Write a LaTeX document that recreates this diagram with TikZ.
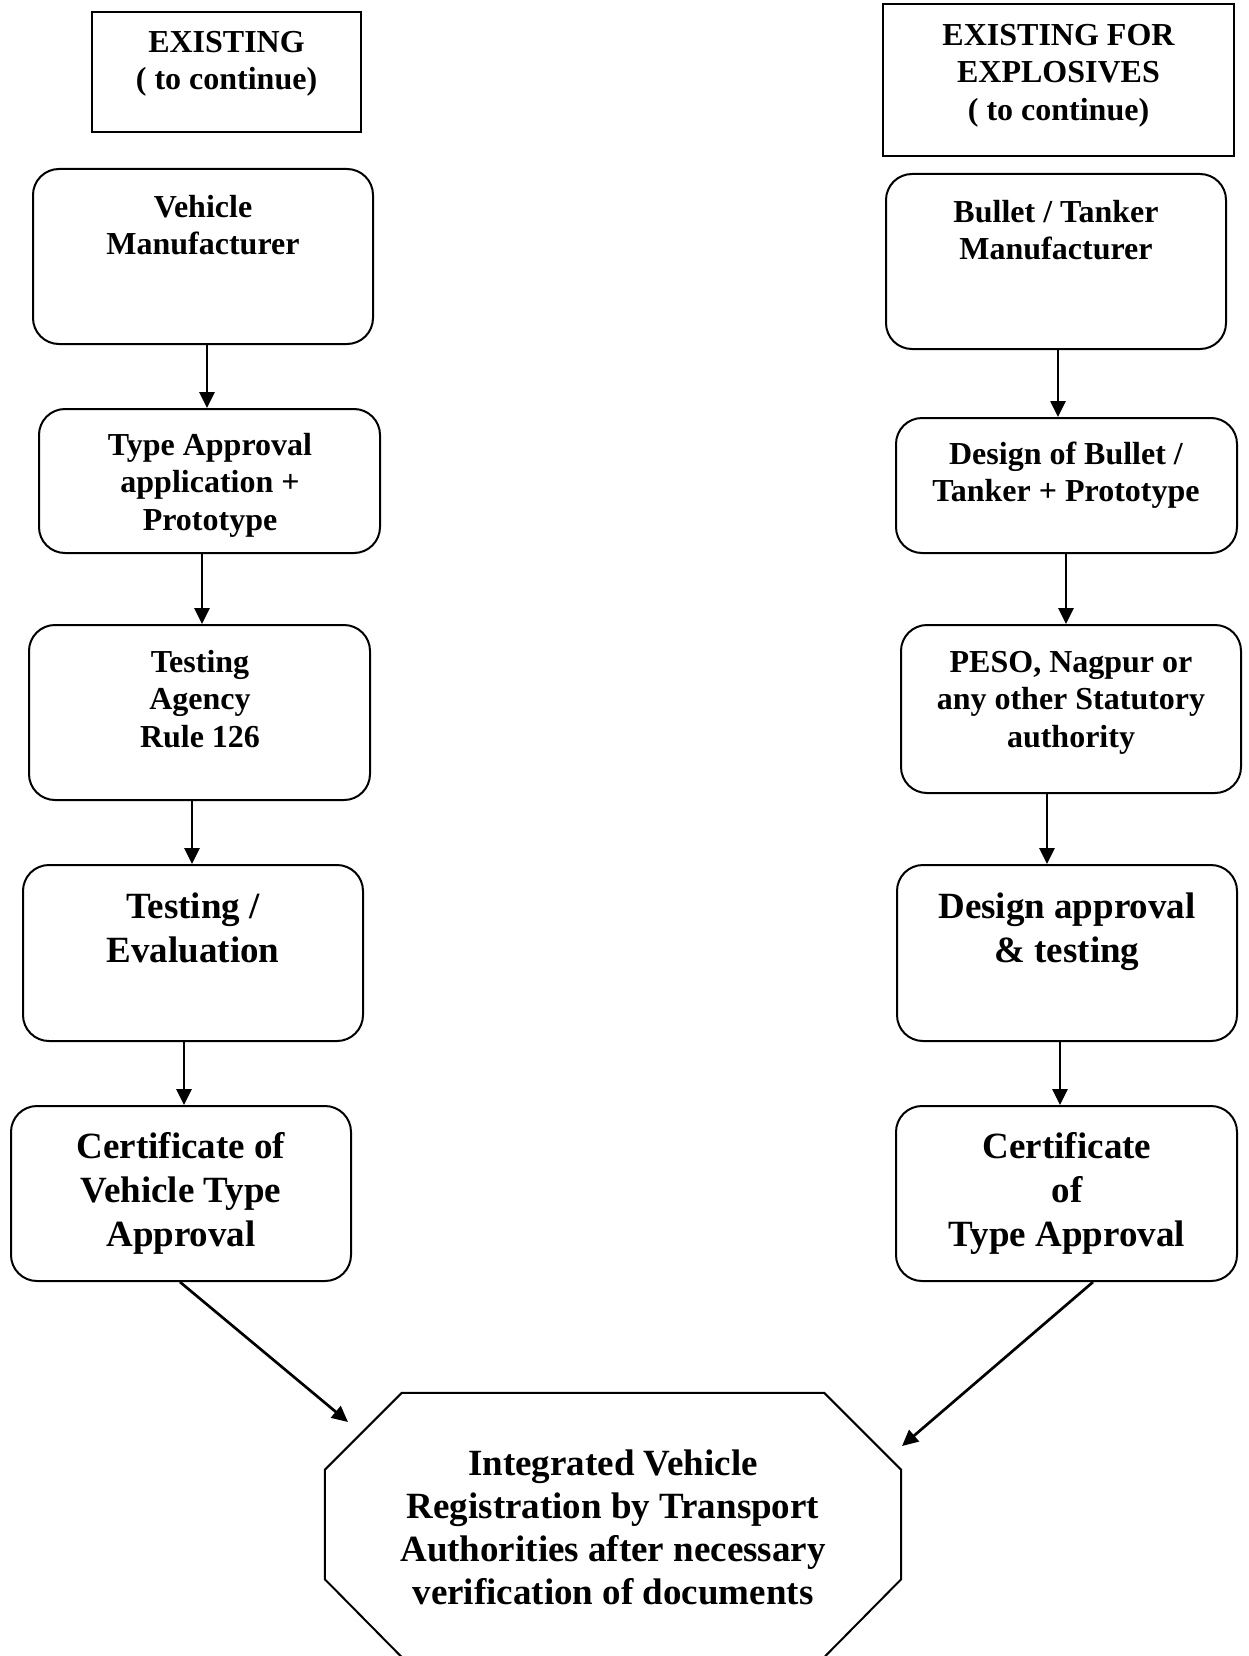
\documentclass[tikz,border=0pt]{standalone}
\usepackage{fontspec}
\setmainfont{Liberation Serif}
\usetikzlibrary{arrows.meta}
\tikzset{
  sq/.style={draw, line width=2pt, inner sep=0pt},
  rbox/.style={draw, line width=2pt, rounded corners=26pt, inner sep=0pt},
  sml/.style={anchor=north, align=center, inner sep=0pt, font=\fontsize{32}{37.5}\selectfont\bfseries},
  big/.style={anchor=north, align=center, inner sep=0pt, font=\fontsize{37}{44}\selectfont\bfseries},
  arr/.style={line width=2.7pt, -{Triangle[length=16pt,width=15pt]}},
}
\begin{document}
\begin{tikzpicture}[x=1pt, y=-1pt]
\useasboundingbox (0,0) rectangle (1248,1656);
\fill[white] (0,0) rectangle (1248,1656);

% header boxes
\node[sq, minimum width=269pt, minimum height=120pt] (L0) at (226.5,72) {};
\node[sml] (L0t) at (226.5,25.75) {\strut EXISTING\\( to continue)};
\node[sq, minimum width=351pt, minimum height=152pt] (R0) at (1058.5,80) {};
\node[sml] (R0t) at (1058.5,18.75) {\strut EXISTING FOR\\EXPLOSIVES\\( to continue)};

% left column
\node[rbox, minimum width=340pt, minimum height=175pt] (L1) at (203,256.5) {};
\node[sml] (L1t) at (203,190.75) {\strut Vehicle\\Manufacturer};
\node[rbox, minimum width=341pt, minimum height=144pt] (L2) at (209.5,481) {};
\node[sml] (L2t) at (210,428.75) {\strut Type Approval\\application +\\Prototype};
\node[rbox, minimum width=341pt, minimum height=175pt] (L3) at (199.5,712.5) {};
\node[sml] (L3t) at (200,645.75) {\strut Testing\\Agency\\Rule 126};
\node[rbox, minimum width=340pt, minimum height=176pt] (L4) at (193,953) {};
\node[big] (L4t) at (193,887.2) {\strut Testing /\\Evaluation};
\node[rbox, minimum width=340pt, minimum height=175pt] (L5) at (181,1193.5) {};
\node[big] (L5t) at (181,1127.2) {\strut Certificate of\\Vehicle Type\\Approval};

% right column
\node[rbox, minimum width=340pt, minimum height=175pt] (R1) at (1056,261.5) {};
\node[sml] (R1t) at (1056,195.75) {\strut Bullet / Tanker\\Manufacturer};
\node[rbox, minimum width=341pt, minimum height=135pt] (R2) at (1066.5,485.5) {};
\node[sml] (R2t) at (1066,437.75) {\strut Design of Bullet /\\Tanker + Prototype};
\node[rbox, minimum width=340pt, minimum height=168pt] (R3) at (1071,709) {};
\node[sml] (R3t) at (1071,645.75) {\strut PESO, Nagpur or\\any other Statutory\\authority};
\node[rbox, minimum width=340pt, minimum height=176pt] (R4) at (1067,953) {};
\node[big] (R4t) at (1067,887.2) {\strut Design approval\\\& testing};
\node[rbox, minimum width=341pt, minimum height=175pt] (R5) at (1066.5,1193.5) {};
\node[big] (R5t) at (1067,1127.2) {\strut Certificate\\of\\Type Approval};

% octagon
\node[minimum width=576pt, minimum height=264pt, inner sep=0pt] (oct) at (613,1525) {};
\draw[line width=2pt] ([xshift=77pt]oct.north west) -- ([xshift=-77pt]oct.north east)
  -- ([yshift=-77pt]oct.north east) -- ([yshift=78pt]oct.south east)
  -- ([xshift=-77pt]oct.south east) -- ([xshift=77pt]oct.south west)
  -- ([yshift=78pt]oct.south west) -- ([yshift=-77pt]oct.north west) -- cycle;
\node[big, font=\fontsize{37}{43}\selectfont\bfseries] (octt) at (613,1444.9)
  {\strut Integrated Vehicle\\Registration by Transport\\Authorities after necessary\\verification of documents};

% connectors
\draw[arr] (L1.south -| 207,0) -- (L2.north -| 207,0);
\draw[arr] (L2.south -| 202,0) -- (L3.north -| 202,0);
\draw[arr] (L3.south -| 192,0) -- (L4.north -| 192,0);
\draw[arr] (L4.south -| 184,0) -- (L5.north -| 184,0);
\draw[arr] (R1.south -| 1058,0) -- (R2.north -| 1058,0);
\draw[arr] (R2.south -| 1066,0) -- (R3.north -| 1066,0);
\draw[arr] (R3.south -| 1047,0) -- (R4.north -| 1047,0);
\draw[arr] (R4.south -| 1060,0) -- (R5.north -| 1060,0);
\coordinate (ta) at (348,1422);
\coordinate (tb) at (902,1446);
\draw[arr] (L5.south -| 180,0) -- (ta);
\draw[arr] (R5.south -| 1093,0) -- (tb);
\end{tikzpicture}
\end{document}
